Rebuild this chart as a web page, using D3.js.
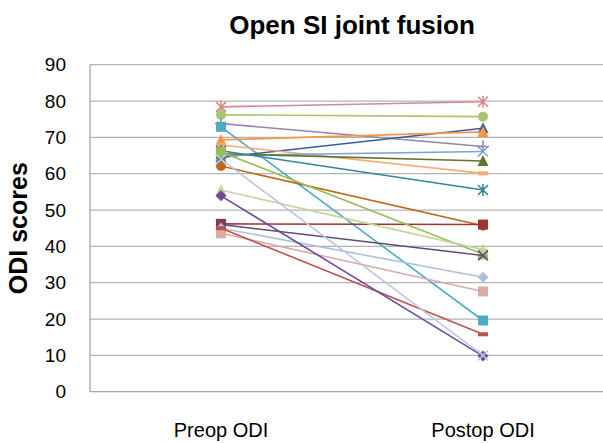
<!DOCTYPE html>
<html>
<head>
<meta charset="utf-8">
<script src="https://cdn.jsdelivr.net/npm/d3@7"></script>
<style>
  html, body { margin: 0; padding: 0; background: #fff; }
  svg { display: block; font-family: "Liberation Sans", Arial, sans-serif; }
</style>
</head>
<body>
<svg id="chart" width="603" height="443"></svg>
<script>
// ---- Data ----
const title = "Open SI joint fusion";
const yAxisTitle = "ODI scores";
const categories = ["Preop ODI", "Postop ODI"];
const yTicks = [0, 10, 20, 30, 40, 50, 60, 70, 80, 90];

const patients = ["P1","P2","P3","P4","P5","P6","P7","P8","P9","P10",
                  "P11","P12","P13","P14","P15","P16","P17","P18","P19","P20"];
const preopODI  = [78.4, 76.2, 73.8, 72.9, 64.5, 69.3, 67.9, 65.0, 65.5, 66.3,
                   62.1, 46.2, 66.0, 55.5, 46.0, 45.0, 43.6, 45.0, 53.9, 64.0];
const postopODI = [79.8, 75.7, 67.5, 19.6, 72.5, 71.5, 60.1, 66.1, 63.5, 55.5,
                   45.7, 46.0, 37.8, 39.1, 37.5, 31.5, 27.6, 15.8, 9.8, 10.0];
const seriesColors = ["#D9888A","#A9C66F","#9584B1","#4BACC6","#31609A","#F79646","#F9AB6B","#7F9FD3","#5F7530","#31859C",
                      "#C0651A","#9B3432","#9BBB59","#C3D69B","#60497A","#AFC0DC","#DDAAAA","#C0504D","#6E4A99","#B9C7E0"];
const seriesMarkers = ["star","circle","plus","square","triangle","triangle","dash","x","triangle","star",
                       "circle","square","square","triangle","x","diamond","square","dash","diamond","x"];

// ---- Layout ----
const svg = d3.select("#chart");
const plotLeft = 90, plotRight = 614, plotTop = 64.7, plotBottom = 391.7;

const x = d3.scaleBand().domain(categories).range([plotLeft, plotRight]).padding(0);
const cx = c => x(c) + x.bandwidth() / 2;
const y = d3.scaleLinear().domain([0, 90]).range([plotBottom, plotTop]);

// gridlines
svg.append("g").selectAll("line").data(yTicks.filter(d => d > 0)).join("line")
  .attr("x1", plotLeft).attr("x2", plotRight)
  .attr("y1", d => y(d)).attr("y2", d => y(d))
  .attr("stroke", "#B3B3B3").attr("stroke-width", 1.2);

// axis lines
svg.append("line").attr("x1", plotLeft).attr("x2", plotRight)
  .attr("y1", plotBottom).attr("y2", plotBottom)
  .attr("stroke", "#A6A6A6").attr("stroke-width", 1.3);
svg.append("line").attr("x1", plotLeft).attr("x2", plotLeft)
  .attr("y1", plotTop).attr("y2", plotBottom)
  .attr("stroke", "#A6A6A6").attr("stroke-width", 1.3);

// y axis labels
const yAxis = d3.axisLeft(y).tickValues(yTicks).tickSize(0).tickPadding(24);
const gy = svg.append("g").attr("transform", `translate(${plotLeft},0)`).call(yAxis);
gy.select(".domain").remove();
gy.selectAll("text").attr("font-size", 19).attr("fill", "#000")
  .attr("font-family", "'Liberation Sans', Arial, sans-serif");

// x axis labels
const xAxis = d3.axisBottom(x).tickSize(0).tickPadding(31);
const gx = svg.append("g").attr("transform", `translate(0,${plotBottom})`).call(xAxis);
gx.select(".domain").remove();
gx.selectAll("text").attr("font-size", 20).attr("fill", "#000")
  .attr("font-family", "'Liberation Sans', Arial, sans-serif");

// series
const series = patients.map((p, i) => ({
  name: p,
  values: [preopODI[i], postopODI[i]],
  color: seriesColors[i],
  marker: seriesMarkers[i]
}));

const line = d3.line().x((d, j) => cx(categories[j])).y(d => y(d));

const gS = svg.append("g");
series.forEach(s => {
  const g = gS.append("g");
  g.append("path").attr("d", line(s.values))
    .attr("fill", "none").attr("stroke", s.color).attr("stroke-width", 1.6);
  s.values.forEach((v, j) => {
    const px = cx(categories[j]), py = y(v);
    const m = g.append("g").attr("transform", `translate(${px},${py})`);
    const r = 5;
    switch (s.marker) {
      case "circle":
        m.append("circle").attr("r", r).attr("fill", s.color); break;
      case "square":
        m.append("rect").attr("x", -r).attr("y", -r).attr("width", 2*r).attr("height", 2*r).attr("fill", s.color); break;
      case "dash":
        m.append("rect").attr("x", -r).attr("y", -2).attr("width", 2*r).attr("height", 4).attr("fill", s.color); break;
      case "diamond":
        m.append("path").attr("d", `M0,${-r-0.5}L${r+0.5},0L0,${r+0.5}L${-r-0.5},0Z`).attr("fill", s.color); break;
      case "triangle":
        m.append("path").attr("d", `M0,${-r-1}L${r+0.5},${r}L${-r-0.5},${r}Z`).attr("fill", s.color); break;
      case "x":
        m.append("path").attr("d", `M${-r},${-r}L${r},${r}M${-r},${r}L${r},${-r}`).attr("stroke", s.color).attr("stroke-width", 1.6); break;
      case "plus":
        m.append("path").attr("d", `M${-r-1},0L${r+1},0M0,${-r-1}L0,${r+1}`).attr("stroke", s.color).attr("stroke-width", 1.6); break;
      case "star":
        m.append("path").attr("d", `M${-r},${-r}L${r},${r}M${-r},${r}L${r},${-r}M0,${-r-1}L0,${r+1}`).attr("stroke", s.color).attr("stroke-width", 1.6); break;
    }
  });
});

// title
svg.append("text").attr("x", (plotLeft + plotRight) / 2).attr("y", 34)
  .attr("text-anchor", "middle").attr("font-size", 26).attr("font-weight", "bold")
  .text(title);

// y axis title
svg.append("text").attr("transform", `translate(27,${(plotTop + plotBottom) / 2}) rotate(-90)`)
  .attr("text-anchor", "middle").attr("font-size", 25).attr("font-weight", "bold")
  .text(yAxisTitle);
</script>
</body>
</html>
